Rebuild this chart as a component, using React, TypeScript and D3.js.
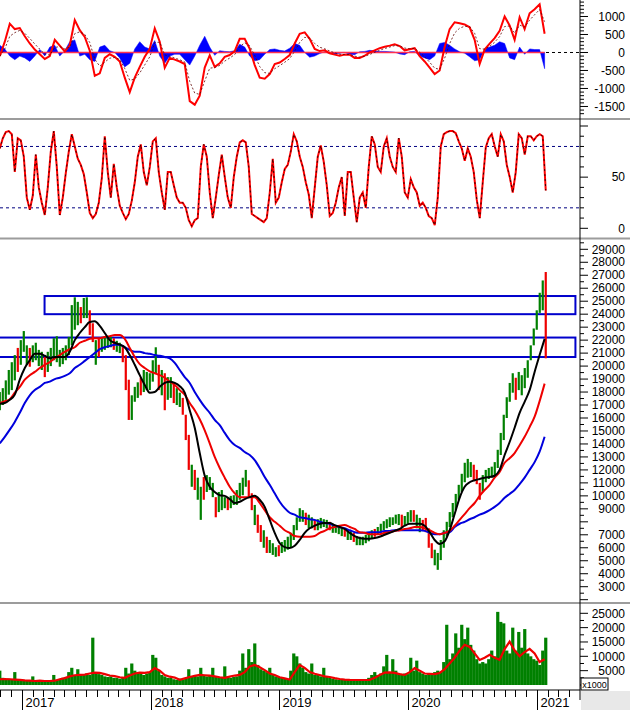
import React from 'react';
import * as d3 from 'd3';

const W = 630;
const H = 710;
const PLOT_RIGHT = 580;
const DAY_MS = 86400000;
const SERIES_START = Date.UTC(2016, 9, 30);
const FINE_STEP_DAYS = 8.51;
const COARSE_STEP_DAYS = 14.18;

// ---- price bars (fine step) ----
const candleHigh = [
  18000, 18300, 18900, 19700, 20300, 20850, 21400, 22000, 22700, 21600,
  21400, 21600, 21800, 21250, 21100, 20700, 21100, 21400, 22150, 22300,
  21250, 21400, 21600, 22250, 24700, 25300, 24950, 24550, 25250, 25300,
  24300, 23300, 22000, 22150, 22150, 22300, 22250, 22250, 22150, 21950,
  21800, 21600, 20850, 18950, 17750, 18400, 18750, 19100, 19700, 19550,
  19450, 20450, 21450, 20100, 19700, 19450, 19150, 19150, 18700, 18300,
  17950, 17550, 16250, 14700, 12400, 12000, 11400, 10700, 11450, 11600,
  11450, 11000, 9900, 10300, 10450, 9900, 9850, 10000, 10050, 10450,
  11000, 11400, 12000, 11200, 10200, 9300, 8550, 7750, 7350, 6850,
  6600, 6350, 6050, 6200, 6450, 6600, 6850, 7150, 7750, 8350,
  9050, 8900, 8700, 8550, 8350, 8150, 8200, 8300, 8200, 8150,
  8000, 7850, 7750, 7750, 7600, 7450, 7350, 7300, 7150, 6900,
  6850, 6850, 7000, 7200, 7350, 7450, 7600, 7850, 8050, 8200,
  8350, 8350, 8550, 8600, 8550, 8450, 8750, 8900, 8900, 8550,
  8300, 8150, 8300, 7500, 6350, 5850, 5600, 6600, 7350, 8000,
  8750, 9450, 10150, 10850, 11700, 12550, 12850, 12600, 12400, 12000,
  11000, 11600, 12000, 12150, 12250, 12600, 13550, 14850, 16250, 17600,
  18700, 19450, 19100, 19550, 19300, 19850, 20450, 21600, 22900, 24300,
  25650, 26600, 27250,
];
const candleLow = [
  16600, 17000, 17400, 17800, 18150, 18900, 19550, 20100, 21100, 20100,
  19950, 20300, 20450, 20000, 19700, 19150, 19550, 20000, 20450, 20300,
  19950, 20150, 20450, 20850, 21600, 22800, 23150, 23300, 23700, 23700,
  22400, 21850, 20100, 20700, 21100, 21250, 21400, 21450, 21250, 21100,
  21000, 20300, 18150, 15850, 15850, 17250, 17550, 17750, 18000, 18150,
  18150, 18800, 19450, 18150, 17750, 16600, 17400, 17550, 17150, 17000,
  16850, 16250, 14300, 12000, 10700, 10450, 9700, 8150, 9700, 10300,
  10450, 9900, 8350, 8750, 8900, 9050, 8900, 9050, 9300, 9300,
  9700, 10050, 10700, 9900, 8900, 7750, 7150, 6450, 6000, 5600,
  5600, 5450, 5300, 5350, 5600, 5700, 5850, 6050, 6600, 7350,
  8000, 8000, 7750, 7500, 7500, 7350, 7350, 7500, 7600, 7500,
  7350, 7150, 7150, 7050, 6900, 6850, 6600, 6600, 6450, 6200,
  6200, 6200, 6350, 6500, 6750, 6850, 7000, 7150, 7350, 7500,
  7600, 7750, 7850, 7750, 7600, 7700, 7850, 8000, 8000, 7500,
  7200, 7350, 7200, 6000, 5200, 4650, 4300, 5050, 6000, 6850,
  7600, 8350, 8900, 9700, 10300, 11050, 11400, 11450, 11200, 10900,
  9700, 10300, 11050, 11300, 11400, 11550, 12150, 13150, 14300, 16000,
  17250, 17950, 17400, 18150, 17750, 18300, 19100, 20450, 21600, 22800,
  24100, 24300, 20600,
];
const candleTone =
  'ggggggrggg' + 'rggggrgggg' + 'gggggggrgg' + 'rrgrggggrg' + 'grrrgggrgg' +
  'gggrgrggrg' + 'grrrgrggrg' + 'ggrgggrggg' + 'gggrrgrrgr' + 'gggrgggggg' +
  'ggrggrgggg' + 'rggggrggrg' + 'gggggrgggg' + 'ggggrgggrg' + 'grrrrggggg' +
  'ggggggggrr' + 'rggggggggg' + 'ggrggggggg' + 'ggr';

// ---- moving averages (coarse step) ----
const maFast = [
  17100, 17150, 17400, 17800, 18950, 19850, 20450, 20950, 20950, 20800,
  20600, 20700, 20700, 20700, 21100, 22000, 22550, 23000, 23400, 23450,
  23100, 22550, 22000, 21800, 21650, 21450, 20850, 20100, 19300, 18550,
  17950, 18000, 18400, 18700, 18800, 18700, 18450, 17950, 16600, 15250,
  13300, 11550, 10700, 10300, 10050, 10000, 9750, 9450, 9550, 9750,
  9900, 10000, 9700, 9150, 8150, 7150, 6350, 6050, 5980, 6150,
  6600, 7150, 7500, 7700, 7850, 7900, 7900, 7750, 7600, 7450,
  7150, 6900, 6750, 6700, 6700, 6750, 6850, 7000, 7150, 7300,
  7450, 7700, 7850, 7850, 7850, 7700, 7200, 6600, 6300, 6500,
  7350, 8600, 9850, 10700, 11050, 11200, 11300, 11400, 11450, 11550,
  12000, 13150, 14150, 15250, 16400, 17250, 18150, 19550, 20850, 22100,
];
const maMid = [
  17150, 17300, 17450, 17950, 18400, 18950, 19300, 19550, 19850, 20100,
  20300, 20600, 20850, 21100, 21300, 21450, 21800, 21950, 22100, 22150,
  22150, 22250, 22300, 22400, 22400, 22100, 21400, 20700, 20150, 19850,
  19600, 19450, 19300, 19100, 18800, 18550, 18150, 17800, 17150, 16600,
  15900, 15050, 14050, 13000, 12150, 11400, 10700, 10200, 9900, 9900,
  9900, 9900, 9450, 8900, 8350, 8000, 7700, 7350, 7150, 6900,
  6850, 6850, 6850, 6900, 7150, 7300, 7500, 7600, 7700, 7750,
  7600, 7450, 7200, 7150, 7050, 7050, 7050, 7150, 7200, 7300,
  7350, 7450, 7500, 7600, 7600, 7500, 7350, 7150, 7050, 7150,
  7300, 7700, 8150, 8600, 9050, 9450, 10000, 10450, 10850, 11400,
  11850, 12550, 12900, 13300, 13900, 14550, 15300, 16100, 17300, 18650,
];
const maSlow = [
  14050, 14550, 15100, 15700, 16400, 17150, 17750, 18150, 18400, 18700,
  18800, 19000, 19100, 19250, 19450, 19850, 20100, 20400, 20700, 21000,
  21300, 21450, 21550, 21650, 21650, 21450, 21250, 21100, 21100, 21000,
  20950, 20850, 20800, 20700, 20600, 20250, 19700, 19150, 18700, 18000,
  17400, 16850, 16400, 15850, 15450, 14850, 14300, 13920, 13700, 13380,
  13150, 12750, 12150, 11450, 10850, 10200, 9550, 9050, 8700, 8550,
  8350, 8300, 8200, 8150, 8000, 7900, 7850, 7700, 7600, 7500,
  7350, 7200, 7150, 7150, 7200, 7200, 7200, 7300, 7300, 7350,
  7350, 7350, 7350, 7350, 7350, 7300, 7150, 7050, 7050, 7150,
  7200, 7600, 7850, 8000, 8200, 8350, 8550, 8700, 8900, 9150,
  9450, 9850, 10150, 10450, 10900, 11400, 12000, 12600, 13400, 14550,
];

// ---- support / resistance zones ----
const zoneTop = [25400, 22200];
const zoneBottom = [24000, 20700];
const zoneStart = ['2017-03-06', '2016-09-01'];
const zoneEnd = ['2021-04-20', '2021-04-20'];

// ---- MACD (coarse step) ----
const macdLine = [
  -100, 300, 800, 650, 680, 450, 250, 80, -50, -180,
  -100, 350, 190, 30, 200, 900, 620, 430, 50, -650,
  -580, -150, -50, -120, -250, -700, -1100, -700, -400, -120,
  100, 670, 300, -420, -150, -200, -250, -320, -1350, -1450,
  -1200, -420, -80, -400, -300, -120, -70, 40, 380, 380,
  100, -350, -700, -730, -600, -320, -280, -180, -70, 250,
  520, 560, 380, 100, 40, 60, -20, -60, -90, -60,
  -60, -150, -150, -90, 0, 60, 120, 160, 190, 230,
  180, 60, 90, 120, -100, -250, -420, -600, -500, 150,
  650, 840, 810, 780, 700, 350, -320, 80, 245, 400,
  600, 1000, 750, 350, 980, 650, 1090, 1200, 1340, 520,
];
const macdHist = [
  200, 100, -100, -200, -100, -150, -250, -100, 80, -100,
  150, 200, -100, 50, 300, 350, -100, -50, -200, -250,
  150, 200, 50, 0, -150, -400, -300, 100, 300, 150,
  100, 330, -100, -300, -100, -50, -50, -200, -350, -100,
  200, 450, 150, -80, 50, 30, 20, 50, 230, 150,
  -100, -230, -200, -50, 80, 100, 60, 40, 120, 250,
  200, 0, -130, -100, -30, 20, -30, -40, -20, 0,
  -50, -60, 20, 30, 60, 40, 30, 30, 20, 10,
  -40, -60, 20, 30, -100, -150, -200, -100, 250, 280,
  200, 100, 20, -20, -120, -230, -200, 100, 150, 200,
  300, 250, -150, -200, 150, -50, 100, 80, 80, -450,
];
const macdLabels = [1000, 500, 0, -500, -1000, -1500];

// ---- stochastic (fine step) ----
const stochK = [
  78, 88, 94, 95, 92, 55, 88, 86, 70, 30,
  18, 32, 72, 40, 25, 13, 40, 75, 95, 60,
  13, 30, 54, 75, 92, 80, 68, 62, 53, 35,
  15, 10, 14, 25, 49, 90, 55, 30, 63, 40,
  22, 15, 9, 14, 27, 45, 70, 82, 55, 42,
  60, 85, 88, 55, 35, 18, 55, 55, 42, 30,
  25, 25, 20, 8, 2, 8, 10, 60, 82, 70,
  35, 10, 30, 52, 72, 50, 30, 20, 50, 70,
  84, 86, 84, 60, 14, 12, 10, 8, 6, 10,
  35, 68, 25, 30, 45, 58, 62, 75, 92, 85,
  70, 60, 45, 33, 10, 40, 70, 81, 65, 42,
  12, 15, 25, 40, 50, 12, 55, 55, 30, 6,
  30, 35, 20, 60, 90, 82, 60, 55, 80, 88,
  70, 60, 55, 88, 70, 35, 30, 48, 40, 35,
  22, 25, 20, 12, 10, 3, 30, 80, 92, 94,
  95, 95, 93, 85, 78, 66, 78, 70, 55, 28,
  10, 45, 79, 88, 92, 80, 70, 92, 85, 62,
  50, 35, 55, 92, 88, 72, 90, 90, 86, 90,
  92, 90, 37,
];
const stochLevels = [80, 20];
const stochLabels = [50, 0];

// ---- volume (fine step) and its average (coarse step) ----
const volume = [
  5000, 2500, 2000, 2200, 1800, 4500, 2000, 1800, 1500, 1600,
  1500, 3000, 1500, 1400, 1500, 1300, 1500, 1400, 3500, 1800,
  2000, 2500, 2800, 4500, 6000, 3500, 5500, 3500, 3800, 4000,
  3500, 16500, 4500, 3800, 3500, 3000, 2800, 3000, 2500, 2500,
  2200, 2500, 6000, 4000, 7500, 5000, 4000, 4500, 3500, 4000,
  4500, 10500, 9500, 5000, 3500, 3000, 2500, 2500, 2000, 1800,
  2200, 1800, 2200, 5500, 3000, 3500, 3000, 6000, 3500, 3000,
  3500, 6000, 3000, 2500, 2800, 6500, 3000, 2500, 2800, 3000,
  5000, 11000, 6000, 12500, 8000, 14500, 7000, 5500, 5000, 4500,
  6000, 3500, 3000, 2800, 2500, 2200, 2000, 5000, 11000, 10000,
  7500, 6000, 4500, 4000, 7500, 3500, 3500, 3000, 6000, 3000,
  2500, 2200, 2000, 1800, 1800, 2000, 1800, 1600, 1800, 1600,
  1800, 1700, 2000, 2500, 3500, 4500, 3500, 4000, 6500, 10500,
  4500, 9000, 5000, 4000, 3500, 4000, 3800, 9500, 5000, 8500,
  4500, 4000, 3500, 4000, 3500, 4500, 5000, 4500, 8000, 21000,
  9000, 11000, 18000, 13000, 21000, 16000, 20000, 14000, 12000, 9000,
  7500, 8000, 7500, 9000, 12000, 10000, 25500, 22000, 21500, 12000,
  11000, 20000, 12000, 18500, 13000, 19500, 11000, 10000, 9000, 8500,
  7000, 12000, 16500,
];
const volumeMA = [
  2000, 2100, 2000, 1900, 1800, 1600, 1500, 1400, 1500, 1400,
  1400, 1500, 2000, 2400, 3000, 3400, 3500, 3600, 4000, 4300,
  4200, 3800, 3300, 3100, 2700, 2500, 3300, 4000, 4300, 4200,
  4500, 5900, 5000, 3500, 2900, 2600, 1800, 2300, 2800, 3200,
  3500, 3400, 3300, 3000, 2700, 2500, 2900, 3300, 3500, 4500,
  6500, 7000, 6200, 5200, 4000, 3500, 2700, 2300, 1900, 4500,
  7000, 6000, 4500, 3900, 3500, 3000, 2800, 2400, 2100, 1900,
  1800, 1750, 1750, 1750, 1800, 2500, 3500, 4300, 4400, 4200,
  3800, 3500, 4500, 5900, 5000, 4000, 3900, 3800, 4200, 5500,
  7500, 9500, 12000, 14000, 13300, 11000, 8750, 9500, 10500, 9500,
  8800, 12500, 15100, 12000, 10000, 11500, 12600, 11000, 8000, 9000,
];
const volumeLabels = [25000, 20000, 15000, 10000, 5000];

// ---- price axis labels ----
const priceLabels = [
  29000, 28000, 27000, 26000, 25000, 24000, 23000, 22000, 21000, 20000,
  19000, 18000, 17000, 16000, 15000, 14000, 13000, 12000, 11000, 10000,
  9000, 7000, 6000, 5000, 4000, 3000,
];

const FONT = '"Liberation Sans", Arial, sans-serif';
const GREEN = '#008000';
const RED = '#ee0000';
const BLUE = '#0000dd';

export default function App() {
  const x = d3
    .scaleUtc()
    .domain([new Date(Date.UTC(2017, 0, 1)), new Date(Date.UTC(2021, 0, 1))])
    .range([22, 537]);
  const fineDate = (i: number) => new Date(SERIES_START + i * FINE_STEP_DAYS * DAY_MS);
  const coarseDate = (i: number) => new Date(SERIES_START + i * COARSE_STEP_DAYS * DAY_MS);

  const yMacd = d3.scaleLinear().domain([-1820, 1458]).range([118, 0]);
  const yStoch = d3.scaleLinear().domain([0, 100]).range([228.3, 126]);
  const yPrice = d3.scaleLinear().domain([3000, 29000]).range([586.7, 249.3]);
  const yVol = d3.scaleLinear().domain([0, 25000]).range([685, 613.3]);

  const maPath = (arr: number[]) =>
    d3
      .line<number>()
      .x((_, i) => x(coarseDate(i)))
      .y((v) => yPrice(v))
      .curve(d3.curveMonotoneX)(arr) || '';

  const macdPath =
    d3
      .line<number>()
      .x((_, i) => x(coarseDate(i)))
      .y((v) => yMacd(v))(macdLine) || '';
  const macdSignal: number[] = [];
  macdLine.forEach((v, i) => {
    macdSignal.push(i === 0 ? v : macdSignal[i - 1] + 0.5 * (v - macdSignal[i - 1]));
  });
  const signalPath =
    d3
      .line<number>()
      .x((_, i) => x(coarseDate(i)))
      .y((v) => yMacd(v))(macdSignal) || '';
  const histPath =
    d3
      .area<number>()
      .x((_, i) => x(coarseDate(i)))
      .y0(yMacd(0))
      .y1((v) => yMacd(v))(macdHist) || '';

  const stochPath =
    d3
      .line<number>()
      .x((_, i) => x(fineDate(i)))
      .y((v) => yStoch(v))(stochK) || '';

  const volMAPath =
    d3
      .line<number>()
      .x((_, i) => x(coarseDate(i)))
      .y((v) => yVol(v))(volumeMA) || '';

  const lastX = x(coarseDate(macdLine.length - 1));

  const ticks: { y: number; major: boolean }[] = [];
  d3.range(-1800, 1500, 100).forEach((v) => {
    const y = yMacd(v);
    if (y > 1 && y < 117) ticks.push({ y, major: v % 500 === 0 });
  });
  d3.range(0, 101, 10).forEach((v) => {
    ticks.push({ y: yStoch(v), major: v % 50 === 0 });
  });
  d3.range(2000, 30000, 500).forEach((v) => {
    const y = yPrice(v);
    if (y > 241 && y < 601) ticks.push({ y, major: v % 1000 === 0 });
  });
  d3.range(0, 27500, 2500).forEach((v) => {
    const y = yVol(v);
    if (y > 605 && y < 688) ticks.push({ y, major: v % 5000 === 0 });
  });

  const months = d3.utcMonth
    .range(new Date(Date.UTC(2016, 9, 1)), new Date(Date.UTC(2021, 5, 1)))
    .filter((d) => x(d) >= 0 && x(d) < PLOT_RIGHT - 1);

  return (
    <svg
      width={W}
      height={H}
      viewBox={`0 0 ${W} ${H}`}
      style={{ position: 'absolute', left: 0, top: 0, display: 'block', background: '#fff' }}
      fontFamily={FONT}
    >
      <defs>
        <clipPath id="cMacd">
          <rect x={0} y={0} width={PLOT_RIGHT} height={118} />
        </clipPath>
        <clipPath id="cStoch">
          <rect x={0} y={120} width={PLOT_RIGHT} height={117} />
        </clipPath>
        <clipPath id="cMain">
          <rect x={0} y={240} width={PLOT_RIGHT} height={362} />
        </clipPath>
        <clipPath id="cVol">
          <rect x={0} y={604} width={PLOT_RIGHT} height={85} />
        </clipPath>
      </defs>
      <rect x={0} y={0} width={W} height={H} fill="#fff" />

      {/* MACD panel */}
      <g clipPath="url(#cMacd)">
        <line x1={0} x2={PLOT_RIGHT} y1={yMacd(0)} y2={yMacd(0)} stroke="#000" strokeDasharray="3,3" strokeWidth={1} />
        <path d={histPath} fill="#0000ff" stroke="#0000ff" strokeWidth={0.5} />
        <line x1={0} x2={lastX} y1={yMacd(0)} y2={yMacd(0)} stroke="#ff3050" strokeWidth={1.5} />
        <path d={macdPath} fill="none" stroke="#ff0000" strokeWidth={2} />
        <path d={signalPath} fill="none" stroke="#600000" strokeWidth={0.8} strokeDasharray="2,2" />
      </g>

      {/* Stochastic panel */}
      <g clipPath="url(#cStoch)">
        {stochLevels.map((v) => (
          <line key={v} x1={0} x2={PLOT_RIGHT} y1={yStoch(v)} y2={yStoch(v)} stroke="#000080" strokeDasharray="3,3" strokeWidth={1} />
        ))}
        <path d={stochPath} fill="none" stroke="#ff0000" strokeWidth={2} />
        <path d={stochPath} fill="none" stroke="#000" strokeWidth={0.8} strokeDasharray="2,3" />
      </g>

      {/* Main price panel */}
      <g clipPath="url(#cMain)">
        {zoneTop.map((top, i) => {
          const x0 = x(new Date(zoneStart[i] + 'T00:00:00Z'));
          const x1 = x(new Date(zoneEnd[i] + 'T00:00:00Z'));
          return (
            <rect
              key={i}
              x={x0}
              y={yPrice(top)}
              width={x1 - x0}
              height={yPrice(zoneBottom[i]) - yPrice(top)}
              fill="none"
              stroke="#0000cc"
              strokeWidth={2}
            />
          );
        })}
        {candleHigh.map((hi, i) => {
          const cx = x(fineDate(i));
          return (
            <rect
              key={i}
              x={cx - 1.1}
              y={yPrice(hi)}
              width={2.2}
              height={yPrice(candleLow[i]) - yPrice(hi)}
              fill={candleTone[i] === 'r' ? RED : GREEN}
            />
          );
        })}
        <path d={maPath(maSlow)} fill="none" stroke={BLUE} strokeWidth={2} />
        <path d={maPath(maMid)} fill="none" stroke={RED} strokeWidth={2} />
        <path d={maPath(maFast)} fill="none" stroke="#000" strokeWidth={2} />
      </g>

      {/* Volume panel */}
      <g clipPath="url(#cVol)">
        {volume.map((v, i) => {
          const cx = x(fineDate(i));
          return <rect key={i} x={cx - 1.6} y={yVol(v)} width={3.2} height={yVol(0) - yVol(v)} fill={GREEN} />;
        })}
        <path d={volMAPath} fill="none" stroke={RED} strokeWidth={2.2} />
      </g>

      {/* separators */}
      {[119, 238.5, 603].map((y) => (
        <line key={y} x1={0} x2={W} y1={y} y2={y} stroke="#9c9c9c" strokeWidth={2} />
      ))}

      {/* right axis */}
      <rect x={581} y={691} width={49} height={19} fill="#e8e8e8" />
      <line x1={PLOT_RIGHT} x2={PLOT_RIGHT} y1={0} y2={700} stroke="#000" strokeWidth={1} />
      {ticks.map((t, i) => (
        <line key={i} x1={PLOT_RIGHT} x2={PLOT_RIGHT + (t.major ? 8 : 4)} y1={t.y} y2={t.y} stroke="#000" strokeWidth={1} />
      ))}
      <g fontSize={12} fill="#000" textAnchor="end">
        {macdLabels.map((v) => (
          <text key={'m' + v} x={625} y={yMacd(v)} dy="0.35em">
            {v}
          </text>
        ))}
        {stochLabels.map((v) => (
          <text key={'s' + v} x={625} y={yStoch(v)} dy="0.35em">
            {v}
          </text>
        ))}
        {priceLabels.map((v) => (
          <text key={'p' + v} x={625} y={yPrice(v)} dy="0.35em">
            {v}
          </text>
        ))}
        {volumeLabels.map((v) => (
          <text key={'v' + v} x={625} y={yVol(v)} dy="0.35em">
            {v}
          </text>
        ))}
      </g>
      <rect x={581} y={678} width={27} height={12} fill="#fff" stroke="#000" strokeWidth={1} />
      <text x={594.5} y={687.5} fontSize={9} textAnchor="middle" fill="#000">
        x1000
      </text>

      {/* time axis */}
      <line x1={0} x2={PLOT_RIGHT} y1={690} y2={690} stroke="#000" strokeWidth={1} />
      {months.map((d, i) => {
        const isYear = d.getUTCMonth() === 0;
        const mx = Math.round(x(d)) + 0.5;
        return (
          <g key={i}>
            <line x1={mx} x2={mx} y1={690} y2={isYear ? 710 : 697} stroke="#000" strokeWidth={1} />
            {isYear && (
              <text x={mx + 3} y={707} fontSize={13} fill="#000">
                {d.getUTCFullYear()}
              </text>
            )}
          </g>
        );
      })}
    </svg>
  );
}
